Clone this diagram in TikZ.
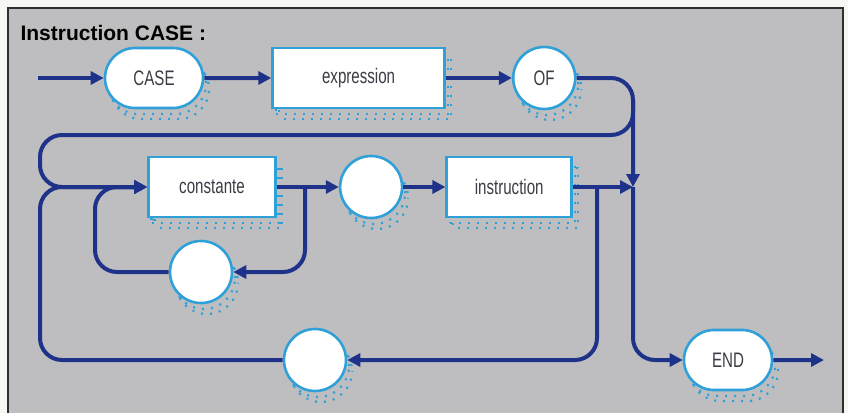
\documentclass[tikz,border=0pt]{standalone}
\usepackage{fontspec}
\setmainfont{Liberation Sans}
\newfontfamily\narrowfont[FakeStretch=0.72]{Liberation Sans}
\usetikzlibrary{arrows.meta,positioning,shapes.misc}

\definecolor{paper}{RGB}{246,246,242}
\definecolor{panel}{RGB}{190,190,192}
\definecolor{frameline}{RGB}{45,45,50}
\definecolor{navy}{RGB}{30,50,138}
\definecolor{skyline}{RGB}{48,160,216}
\definecolor{labelgray}{RGB}{60,60,70}

\begin{document}
\begin{tikzpicture}[
    %–––– GLOBAL STYLE TWEAKS ––––
    x=1pt, y=-1pt,                                   % one unit = one pixel, y downwards
    font=\narrowfont\fontsize{21}{24}\selectfont,
    node distance = 60pt and 66pt,
    shade/.style = {preaction={draw=skyline, line width=2.2pt,
                      dash pattern=on 2pt off 7pt,
                      transform canvas={shift={(3pt,-6pt)}}},
                    preaction={draw=skyline, line width=2.2pt,
                      dash pattern=on 2pt off 7pt, dash phase=4pt,
                      transform canvas={shift={(6pt,-11pt)}}}},
    box/.style   = {rectangle, draw=skyline, line width=2.6pt, fill=white,
                    text=labelgray, minimum width=172pt, minimum height=60pt,
                    inner sep=0pt, shade},
    pill/.style  = {box, rounded rectangle, minimum width=98pt},
    ring/.style  = {box, circle, minimum size=62pt},
    flow/.style  = {draw=navy, line width=4pt, rounded corners=22pt},
    arrow/.style = {flow, -{Triangle[length=13pt,width=13pt]}},
]
%–––– PANEL ––––
\useasboundingbox (0,0) rectangle (848,413);
\fill[paper] (0,0) rectangle (848,413);
\fill[panel] (8,8) rectangle (843,413);
\draw[frameline, line width=1.8pt] (8,413) |- (843,8) -- (843,413);
\node (title) [anchor=base west, text=black,
               font=\bfseries\fontsize{21}{24}\selectfont] at (17,40) {Instruction CASE :};

%–––– FIRST ROW ––––
\node (case)  [pill] at (154,78)                 {CASE};
\node (expr)  [box,  right=67pt of case]          {expression};
\node (of)    [ring, right=66pt of expr]          {OF};

%–––– SECOND ROW ––––
\node (const) [box, minimum width=127pt] at (212,187) {constante};
\node (colon) [ring, right=62pt of const]         {};
\node (instr) [box, minimum width=125pt, right=42pt of colon] {instruction};

%–––– LOOPS AND EXIT ––––
\node (comma) [ring] at (201,272)                 {};
\node (semi)  [ring] at (315,360)                 {};
\node (end)   [pill, minimum width=88pt] at (728,360) {END};

%–––– TURNING POINTS ––––
\coordinate (start)  at (38,78);
\coordinate (join)   at (633,187);
\coordinate (jtop)   at (633,100);
\coordinate (ltop)   at (40,135);
\coordinate (csplit) at (305,187);
\coordinate (cleft)  at (95,272);
\coordinate (osplit) at (597,187);
\coordinate (oleft)  at (40,360);
\coordinate (exit)   at (824,360);

%–––– ARROWS ––––
\foreach \a/\b in {start/case, case/expr, expr/of, const/colon, colon/instr,
                   end/exit}
  \draw[arrow] (\a) -- (\b);
\draw[arrow] (of) -| (join);
\draw[arrow] (instr) -- (join);
\draw[arrow] (join) |- (end);
\draw[arrow] (jtop) |- (ltop) |- (const.west);
\draw[arrow] (csplit) |- (comma);
\draw[arrow] (comma) -- (cleft) |- (const.west);
\draw[arrow] (osplit) |- (semi);
\draw[arrow] (semi) -- (oleft) |- (const.west);
\end{tikzpicture}
\end{document}
